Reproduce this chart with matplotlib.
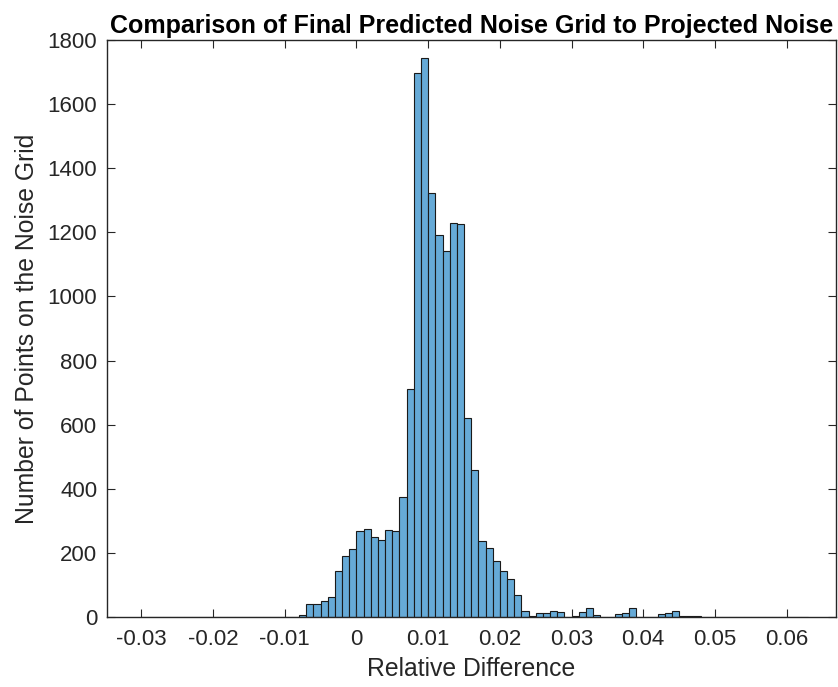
import numpy as np
import matplotlib
matplotlib.use("Agg")
import matplotlib.pyplot as plt

plt.rcParams['font.family'] = ['Liberation Sans', 'DejaVu Sans']

# histogram of relative difference, bin width 0.001 starting at -0.030
bin_start = -0.030
bin_width = 0.001
counts = [
    1, 1, 1, 1, 1, 1, 1, 1, 1, 1,          # -0.030 .. -0.021
    1, 1, 1, 1, 1, 1, 1, 1, 1, 1,          # -0.020 .. -0.011
    1, 1, 5,                               # -0.010 .. -0.008
    41, 41, 49, 62, 145, 191, 213,         # -0.007 .. -0.001
    268, 274, 251, 241, 272, 268, 373, 712, 1697, 1743,   # 0.000 .. 0.009
    1324, 1191, 1143, 1228, 1226, 622, 457, 236, 214, 175,  # 0.010 .. 0.019
    145, 118, 70, 20, 3, 13, 11, 20, 17, 1,                # 0.020 .. 0.029
    3, 15, 27, 5, 1, 1, 10, 12, 28, 1,                     # 0.030 .. 0.039
    1, 1, 9, 13, 20, 3, 4, 2, 1, 1,                        # 0.040 .. 0.049
    1, 1, 1, 1, 1, 1, 1, 1, 1, 1, 1, 1, 1,                 # 0.050 .. 0.062
]
left_edges = bin_start + bin_width * np.arange(len(counts))

x_ticks = [-0.03, -0.02, -0.01, 0, 0.01, 0.02, 0.03, 0.04, 0.05, 0.06]
x_tick_labels = ['-0.03', '-0.02', '-0.01', '0', '0.01', '0.02', '0.03', '0.04', '0.05', '0.06']
y_ticks = list(range(0, 1801, 200))

fig = plt.figure(figsize=(8.38, 6.87), dpi=100)
ax = fig.add_axes([0.1277, 0.1019, 0.8700, 0.8399])

ax.bar(left_edges, counts, width=bin_width, align='edge',
       color=(0.4, 0.668, 0.845), edgecolor=(0.1, 0.1, 0.1), linewidth=0.8)

ax.set_xlim(-0.0348, 0.0669)
ax.set_ylim(0, 1800)
ax.set_xticks(x_ticks)
ax.set_xticklabels(x_tick_labels)
ax.set_yticks(y_ticks)

axis_color = (0.15, 0.15, 0.15)
for s in ax.spines.values():
    s.set_color(axis_color)
    s.set_linewidth(1.0)
ax.tick_params(direction='in', length=5.5, width=0.8, color=axis_color,
               labelcolor=axis_color, labelsize=16, top=True, right=True)
ax.tick_params(axis='x', pad=9)
ax.tick_params(axis='y', pad=7)

ax.set_xlabel('Relative Difference', fontsize=17.8, color=axis_color, labelpad=5)
ax.set_ylabel('Number of Points on the Noise Grid', fontsize=17.8, color=axis_color, labelpad=6)
ax.set_title('Comparison of Final Predicted Noise Grid to Projected Noise',
             fontsize=18, fontweight='bold', color='black', pad=5)

fig.savefig('out.png', dpi=100)
